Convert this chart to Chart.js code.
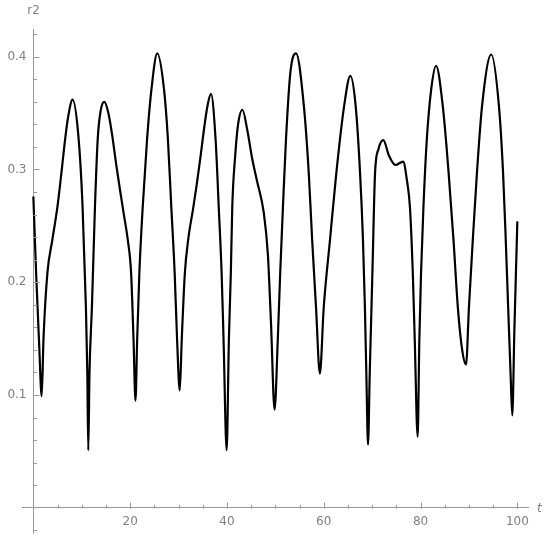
<!DOCTYPE html>
<html>
<head>
<meta charset="utf-8">
<script src="https://cdn.jsdelivr.net/npm/chart.js@4.4.1/dist/chart.umd.min.js"></script>
<style>
  body { margin: 0; background: #fff; }
  #caja { width: 550px; height: 541px; }
</style>
</head>
<body>
<div id="caja"><canvas id="graficaR2"></canvas></div>
<script>
/* curva r2(t), valores */
const tiempos = [
  0, 0.6, 1.2, 1.72, 2.1, 2.9, 3.94, 4.98, 5.8, 6.57, 7.2, 8.1, 9.3, 10.17, 10.86, 11.15, 11.35, 11.6, 12.1, 12.73,
  13.3, 13.9, 14.67, 15.5, 16.3, 17.1, 17.9, 18.7, 19.5, 20.2, 20.7, 21.1, 21.45, 21.9, 22.6, 23.5, 24.4, 25.6,
  27.0, 27.8, 28.5, 29.2, 29.7, 30.25, 30.66, 31.3, 32.0, 33.0, 33.7, 34.5, 35.3, 36.0, 36.7, 37.65, 38.3, 38.9, 39.3,
  39.94, 40.4, 40.8, 41.1, 41.7, 42.3, 43.2, 44.2, 45.2, 46.2, 47.6, 48.45, 49.1, 49.84, 50.5, 51.0, 51.57, 52.2,
  53.1, 54.27, 55.9, 56.9, 57.6, 58.4, 59.2, 60.0, 61.3, 62.6, 64.2, 65.5, 66.6, 67.5, 68.1, 68.5, 68.8, 69.15,
  69.5, 70.05, 70.6, 71.3, 72.3, 73.5, 74.8, 76.4, 77.2, 77.8, 78.4, 78.8, 79.4, 79.75, 80.1, 80.6, 81.3, 82.2,
  83.2, 84.6, 85.8, 86.8, 87.7, 88.6, 89.4, 90.0, 90.8, 91.65, 92.7, 94.6, 96.2, 97.05, 97.6, 98.1, 98.6, 98.95,
  99.4, 100
];
const valoresR2 = [
  0.276, 0.205, 0.145, 0.099, 0.15, 0.208, 0.238, 0.267, 0.297, 0.327, 0.347, 0.362, 0.33, 0.267, 0.178, 0.12, 0.051, 0.12, 0.178, 0.267,
  0.327, 0.352, 0.36, 0.35, 0.33, 0.305, 0.282, 0.26, 0.238, 0.208, 0.149, 0.095, 0.149, 0.208, 0.267, 0.327, 0.371, 0.403,
  0.371, 0.327, 0.267, 0.208, 0.149, 0.104, 0.149, 0.208, 0.238, 0.265, 0.285, 0.31, 0.337, 0.357, 0.367, 0.327, 0.267, 0.208, 0.149,
  0.051, 0.149, 0.208, 0.267, 0.312, 0.34, 0.353, 0.335, 0.31, 0.29, 0.262, 0.225, 0.164, 0.087, 0.149, 0.208, 0.267, 0.327,
  0.386, 0.403, 0.356, 0.297, 0.238, 0.178, 0.119, 0.178, 0.238, 0.297, 0.356, 0.383, 0.356, 0.297, 0.238, 0.178, 0.119, 0.056,
  0.119, 0.208, 0.297, 0.318, 0.326, 0.312, 0.304, 0.307, 0.29, 0.267, 0.208, 0.149, 0.063, 0.149, 0.208, 0.267, 0.327, 0.371,
  0.392, 0.356, 0.297, 0.238, 0.178, 0.14, 0.127, 0.178, 0.238, 0.297, 0.356, 0.402, 0.356, 0.297, 0.238, 0.178, 0.119, 0.082,
  0.16, 0.254
];

const ticksX = [20, 40, 60, 80, 100];
const etiquetasX = ['20', '40', '60', '80', '100'];
const ticksY = [0.1, 0.2, 0.3, 0.4];
const etiquetasY = ['0.1', '0.2', '0.3', '0.4'];

const grisEje = '#9a9a9a';
const grisTexto = '#808080';
const fuente = '12px "DejaVu Sans", sans-serif';

/* marcas hacia dentro y etiquetas al estilo Mathematica */
const ejesMathematica = {
  id: 'ejesMathematica',
  afterDraw(chart) {
    const { ctx, scales: { x, y } } = chart;
    const x0 = Math.round(x.getPixelForValue(0)) + 0.5;
    const y0 = Math.round(y.getPixelForValue(0)) + 0.5;
    ctx.save();
    ctx.strokeStyle = grisEje;
    ctx.lineWidth = 1;
    ctx.beginPath();
    for (let v = 5; v <= x.max; v += 5) {
      const px = Math.round(x.getPixelForValue(v)) + 0.5;
      const largo = v % 20 === 0 ? 6 : 3.5;
      ctx.moveTo(px, y0);
      ctx.lineTo(px, y0 - largo);
    }
    for (let k = -1; k <= 21; k++) {
      const v = k * 0.02;
      if (k === 0 || v < y.min || v > y.max) continue;
      const py = Math.round(y.getPixelForValue(v)) + 0.5;
      const largo = k % 5 === 0 ? 6 : 3.5;
      ctx.moveTo(x0, py);
      ctx.lineTo(x0 + largo, py);
    }
    ctx.stroke();

    ctx.fillStyle = grisTexto;
    ctx.font = fuente;
    ctx.textAlign = 'center';
    ctx.textBaseline = 'top';
    ticksX.forEach((v, i) => ctx.fillText(etiquetasX[i], x.getPixelForValue(v), y0 + 7));
    ctx.textAlign = 'right';
    ctx.textBaseline = 'middle';
    ticksY.forEach((v, i) => ctx.fillText(etiquetasY[i], x0 - 7, y.getPixelForValue(v)));

    // nombres de los ejes
    ctx.textAlign = 'center';
    ctx.fillText('r2', x0, 11);
    ctx.font = 'italic ' + fuente;
    ctx.textAlign = 'left';
    ctx.fillText('t', x.right + 9, y0);
    ctx.restore();
  }
};

document.addEventListener("DOMContentLoaded", () => {
  const ctx = document.getElementById('graficaR2').getContext('2d');

  new Chart(ctx, {
    type: 'line',
    data: {
      datasets: [{
        label: 'r2',
        data: tiempos.map((t, i) => ({ x: t, y: valoresR2[i] })),
        borderColor: '#000',
        borderWidth: 2.2,
        backgroundColor: 'transparent',
        pointRadius: 0,
        cubicInterpolationMode: 'monotone',
        fill: false
      }]
    },
    options: {
      responsive: true,
      maintainAspectRatio: false,
      animation: false,
      layout: { padding: { left: 22.7, right: 22, top: 29, bottom: 8 } },
      plugins: {
        legend: { display: false },
        tooltip: { enabled: false }
      },
      scales: {
        x: {
          type: 'linear',
          position: { y: 0 },
          min: -2.2,
          max: 102.2,
          grid: { display: false, drawTicks: false },
          border: { display: true, color: grisEje, width: 1 },
          ticks: { display: false }
        },
        y: {
          type: 'linear',
          position: { x: 0 },
          min: -0.0224,
          max: 0.4246,
          grid: { display: false, drawTicks: false },
          border: { display: true, color: grisEje, width: 1 },
          ticks: { display: false }
        }
      }
    },
    plugins: [ejesMathematica]
  });
});
</script>
</body>
</html>
